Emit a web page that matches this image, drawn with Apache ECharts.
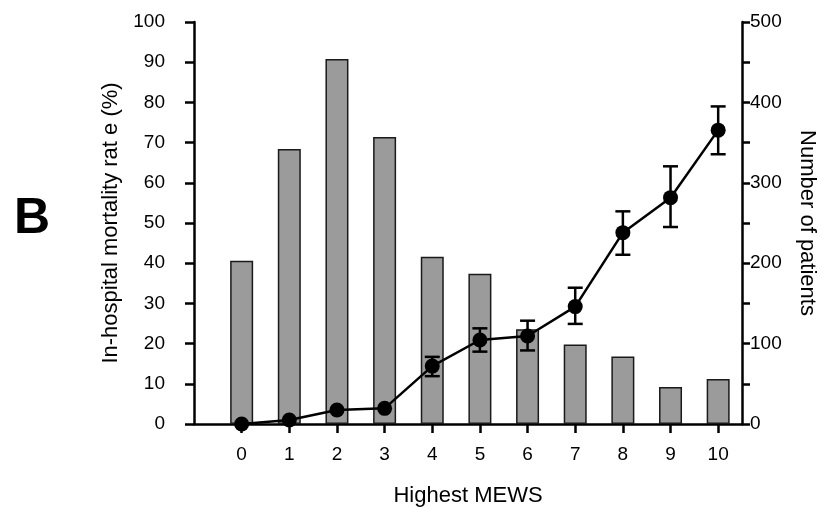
<!DOCTYPE html>
<html>
<head>
<meta charset="utf-8">
<script src="https://cdn.jsdelivr.net/npm/echarts@6/dist/echarts.min.js"></script>
<style>html,body{margin:0;padding:0;background:#fff;}#c{width:825px;height:508px;}</style>
</head>
<body>
<div id="c"></div>
<script>
const mews = [0, 1, 2, 3, 4, 5, 6, 7, 8, 9, 10];
const patients = [203, 342, 454, 357, 208, 187, 118, 99, 84, 46, 56];
const mortality = [0, 1.0, 3.5, 3.9, 14.4, 20.9, 21.9, 29.2, 47.6, 56.3, 73.1];
const errLow = [null, null, null, null, 11.9, 18.0, 18.3, 24.9, 42.1, 49.0, 67.1];
const errHigh = [null, null, null, null, 16.7, 23.8, 25.7, 33.9, 52.9, 64.1, 79.0];

const FONT = 'Liberation Sans, Arial, sans-serif';
const chart = echarts.init(document.getElementById('c'), null, {renderer: 'canvas'});
const axisLine = {show: true, onZero: false, lineStyle: {color: '#000', width: 2.5}};
const axisTick = {show: true, length: 9, lineStyle: {color: '#000', width: 2.5}};

chart.setOption({
  animation: false,
  backgroundColor: '#fff',
  title: {
    text: 'B', left: 9, top: 189,
    textStyle: {fontFamily: FONT, fontSize: 50, fontWeight: 'bold', color: '#000'}
  },
  grid: {left: 194, right: 83, top: 22, bottom: 84, containLabel: false, outerBoundsMode: 'none'},
  xAxis: {
    type: 'value', min: -1, max: 10.5,
    name: 'Highest MEWS', nameLocation: 'middle', nameGap: 61,
    nameTextStyle: {fontFamily: FONT, fontSize: 22, color: '#000'},
    axisLine: axisLine,
    axisTick: Object.assign({}, axisTick, {customValues: mews}),
    axisLabel: {customValues: mews, fontFamily: FONT, fontSize: 19, color: '#000', margin: 21},
    splitLine: {show: false}
  },
  yAxis: [{
    type: 'value', min: 0, max: 100, interval: 10, position: 'left',
    name: 'In-hospital mortality rat e (%)', nameLocation: 'middle', nameGap: 58, nameRotate: 90,
    nameTextStyle: {fontFamily: FONT, fontSize: 22, color: '#000'},
    axisLine: axisLine, axisTick: axisTick,
    axisLabel: {fontFamily: FONT, fontSize: 19, color: '#000', margin: 29},
    splitLine: {show: false}
  }, {
    type: 'value', min: 0, max: 500, interval: 50, position: 'right',
    name: 'Number of patients', nameLocation: 'middle', nameGap: 54, nameRotate: -90,
    nameTextStyle: {fontFamily: FONT, fontSize: 22, color: '#000'},
    axisLine: axisLine, axisTick: Object.assign({}, axisTick, {length: 8}),
    axisLabel: {fontFamily: FONT, fontSize: 19, color: '#000', margin: 8,
      formatter: v => (v % 100 === 0 ? String(v) : '')},
    splitLine: {show: false}
  }],
  series: [{
    type: 'bar', yAxisIndex: 1, barWidth: 23,
    data: mews.map((m, i) => [m, patients[i]]),
    itemStyle: {color: '#9b9b9b', borderColor: '#1a1a1a', borderWidth: 1.5},
    z: 1
  }, {
    type: 'custom', yAxisIndex: 0, z: 4,
    data: mews.map((m, i) => [m, errLow[i], errHigh[i]]).filter(d => d[1] != null),
    renderItem: function (params, api) {
      const x = api.value(0);
      const lo = api.coord([x, api.value(1)]);
      const hi = api.coord([x, api.value(2)]);
      const hw = 7.5;
      const st = {stroke: '#000', lineWidth: 2.5};
      return {type: 'group', children: [
        {type: 'line', shape: {x1: lo[0], y1: lo[1], x2: hi[0], y2: hi[1]}, style: st},
        {type: 'line', shape: {x1: lo[0] - hw, y1: lo[1], x2: lo[0] + hw, y2: lo[1]}, style: st},
        {type: 'line', shape: {x1: hi[0] - hw, y1: hi[1], x2: hi[0] + hw, y2: hi[1]}, style: st}
      ]};
    }
  }, {
    type: 'line', yAxisIndex: 0, z: 5,
    data: mews.map((m, i) => [m, mortality[i]]),
    symbol: 'circle', symbolSize: 15, clip: false,
    lineStyle: {color: '#000', width: 2.5},
    itemStyle: {color: '#000'}
  }]
});
</script>
</body>
</html>
